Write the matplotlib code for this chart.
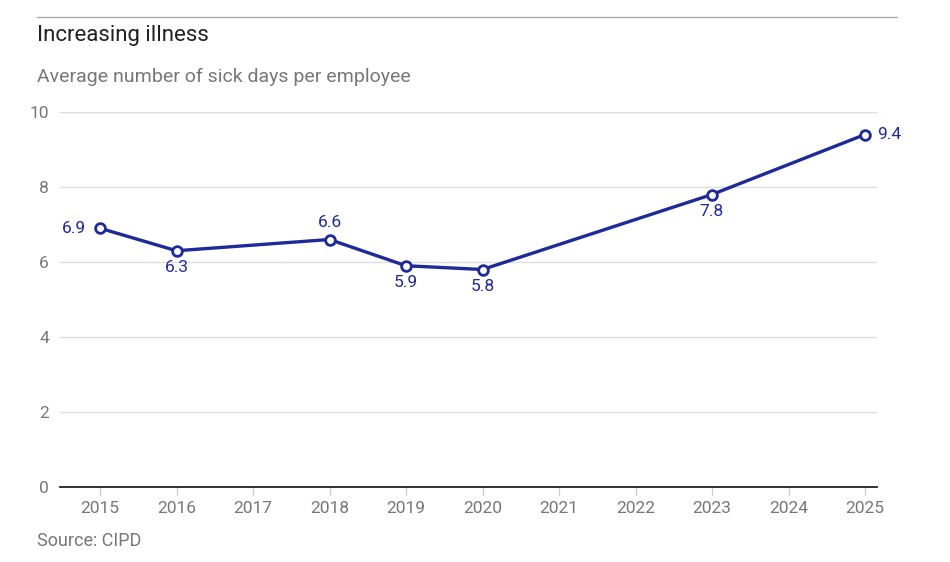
import matplotlib
matplotlib.use("Agg")
import matplotlib.pyplot as plt

# data
years = [2015, 2016, 2018, 2019, 2020, 2023, 2025]
sick_days = [6.9, 6.3, 6.6, 5.9, 5.8, 7.8, 9.4]
label_pos = ["left", "below", "above", "below", "below", "below", "right"]
tick_years = list(range(2015, 2026))
y_ticks = [0, 2, 4, 6, 8, 10]

title = "Increasing illness"
subtitle = "Average number of sick days per employee"
source = "Source: CIPD"

blue = "#1f2a9a"
grey = "#777777"

plt.rcParams['font.family'] = ['Roboto', 'DejaVu Sans']

fig = plt.figure(figsize=(9.5, 5.62), dpi=100)
ax = fig.add_axes([60/950, 75/562, 817/950, 375/562])

ax.plot(years, sick_days, color=blue, lw=2.4, marker="o", ms=7,
        mfc="white", mec=blue, mew=2, zorder=3, clip_on=False)

for x, y, p in zip(years, sick_days, label_pos):
    if p == "left":
        ax.annotate(f"{y}", (x, y), xytext=(-10, 0), textcoords="offset points",
                    ha="right", va="center", color=blue, fontsize=12.5)
    elif p == "right":
        ax.annotate(f"{y}", (x, y), xytext=(9, 0), textcoords="offset points",
                    ha="left", va="center", color=blue, fontsize=12.5)
    elif p == "above":
        ax.annotate(f"{y}", (x, y), xytext=(0, 7), textcoords="offset points",
                    ha="center", va="bottom", color=blue, fontsize=12.5)
    else:
        ax.annotate(f"{y}", (x, y), xytext=(0, -7), textcoords="offset points",
                    ha="center", va="top", color=blue, fontsize=12.5)

ax.set_xlim(2015 - 40/76.5, 2025 + 12/76.5)
ax.set_ylim(0, 10)
ax.set_yticks(y_ticks)
ax.set_xticks(tick_years)
ax.set_xticklabels([str(t) for t in tick_years])

ax.grid(axis="y", color="#dddddd", lw=1)
ax.set_axisbelow(True)
for s in ["top", "right", "left"]:
    ax.spines[s].set_visible(False)
ax.spines["bottom"].set_color("#222222")
ax.spines["bottom"].set_linewidth(1.3)
ax.tick_params(axis="y", length=0, pad=8, labelsize=12.5, labelcolor=grey)
ax.tick_params(axis="x", length=6, color="#cccccc", width=1, pad=4,
               labelsize=12.5, labelcolor=grey)

# top rule and texts
fig.add_artist(plt.Line2D([37/950, 897/950], [1 - 17/562, 1 - 17/562],
                          color="#aaaaaa", lw=1))
fig.text(37/950, 1 - 36/562, title, fontsize=16, color="#222222", va="center")
fig.text(37/950, 1 - 77/562, subtitle, fontsize=14, color=grey, va="center")
fig.text(37/950, 1 - 541/562, source, fontsize=13, color=grey, va="center")

fig.savefig("out.png", dpi=100)
